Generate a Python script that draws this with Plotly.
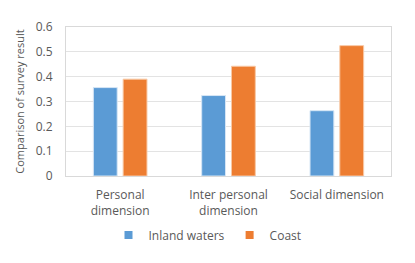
import plotly.graph_objects as go

categories = ["Personal<br>dimension", "Inter personal<br>dimension", "Social dimension"]
inland_waters = [0.356, 0.324, 0.263]
coast = [0.390, 0.442, 0.525]
y_ticks = [0, 0.1, 0.2, 0.3, 0.4, 0.5, 0.6]
y_tick_labels = ["0", "0.1", "0.2", "0.3", "0.4", "0.5", "0.6"]

FONT = "Open Sans"
GRAY = "#595959"
BLUE = "#5B9BD5"
ORANGE = "#ED7D31"

fig = go.Figure()
fig.add_bar(x=categories, y=inland_waters, name="Inland waters", showlegend=False,
            marker=dict(color=BLUE, line=dict(color="#D6E6F5", width=1)))
fig.add_bar(x=categories, y=coast, name="Coast", showlegend=False,
            marker=dict(color=ORANGE, line=dict(color="#F8C9A6", width=1)))
# legend entries with small square swatches
fig.add_scatter(x=[None], y=[None], mode="markers", name="Inland waters",
                marker=dict(symbol="square", size=8, color=BLUE))
fig.add_scatter(x=[None], y=[None], mode="markers", name="Coast",
                marker=dict(symbol="square", size=8, color=ORANGE))

fig.update_layout(
    width=415, height=263,
    margin=dict(l=66, r=24, t=27, b=87, autoexpand=False),
    paper_bgcolor="white", plot_bgcolor="white",
    barmode="group", bargap=0.45, bargroupgap=0.2,
    font=dict(family=FONT, size=12, color=GRAY),
    showlegend=True,
    legend=dict(orientation="h", x=0.5, xanchor="center", xref="container",
                y=28 / 263, yanchor="middle", yref="container",
                font=dict(family=FONT, size=12, color=GRAY),
                itemwidth=30, traceorder="normal", tracegroupgap=0),
)
fig.update_xaxes(showgrid=False, showline=True, linecolor="#D9D9D9", linewidth=1,
                 mirror=True, ticks="", ticklabelstandoff=8,
                 tickfont=dict(size=12, color=GRAY))
fig.update_yaxes(range=[0, 0.6], tickvals=y_ticks, ticktext=y_tick_labels,
                 showgrid=True, gridcolor="#E3E3E3", gridwidth=1,
                 showline=True, linecolor="#D9D9D9", linewidth=1, mirror=True,
                 zeroline=False, ticks="", ticklabelstandoff=10,
                 tickfont=dict(size=12, color=GRAY),
                 title=dict(text="Comparison of survey result", font=dict(size=11, color=GRAY),
                            standoff=8))

fig.write_html("out.html")
